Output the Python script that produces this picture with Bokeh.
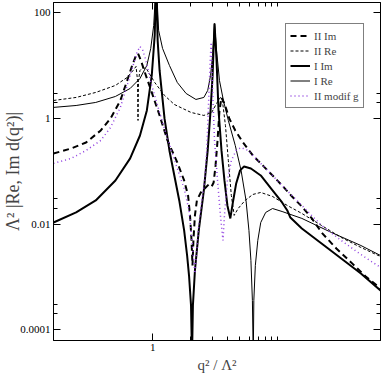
from bokeh.plotting import figure
from bokeh.models import (Range1d, FixedTicker, LogAxis, Legend, LegendItem,
                          CustomJSTickFormatter)
from bokeh.embed import file_html
from bokeh.resources import INLINE

# ---------------- data ----------------
ii_im_x = [0.160, 0.222, 0.292, 0.383, 0.459, 0.550, 0.624, 0.684, 0.735, 0.762, 0.804, 0.865, 0.982,
           1.135, 1.313, 1.573, 1.786, 1.920, 1.991, 2.047, 2.084, 2.12, 2.18, 2.26, 2.43, 2.61, 2.81,
           2.97, 3.08, 3.19, 3.31, 3.43, 3.56, 3.76, 4.11, 4.59, 5.30, 6.36, 7.62, 9.14, 10.9, 13.1,
           15.7, 18.9, 22.6, 29.7, 39.0, 51.1, 67.1]
ii_im_y = [0.217, 0.270, 0.351, 0.593, 1.0, 2.19, 5.24, 10.1, 15.6, 17.0, 12.5, 7.43, 3.11,
           1.14, 0.383, 0.147, 0.0670, 0.0348, 0.0146, 0.00489, 0.00164, 0.00489, 0.0146, 0.028, 0.0397,
           0.0472, 0.0562, 0.0515, 0.0614, 0.129, 0.383, 1.42, 2.50, 1.92, 1.0, 0.593, 0.351, 0.199,
           0.129, 0.0832, 0.0538, 0.0333, 0.0215, 0.0128, 0.00693, 0.00345, 0.00188, 0.00102, 0.000603]

ii_re_x = [0.160, 0.243, 0.349, 0.502, 0.624, 0.696, 0.735, 0.755, 0.762, 0.769, 0.790, 0.834, 0.897,
           1.037, 1.243, 1.490, 2.028, 2.57, 2.97, 3.25, 3.49, 3.62, 3.83, 4.04, 4.27, 4.50, 4.84,
           5.50, 6.36, 7.35, 9.14, 12.0, 15.7, 22.6, 32.5, 46.7, 67.1]
ii_re_y = [2.19, 2.50, 3.11, 4.22, 5.98, 8.11, 9.66, 5.24, 0.916, 5.24, 8.11, 9.25, 8.47,
           4.81, 2.73, 1.84, 1.30, 1.14, 1.30, 1.92, 2.50, 2.19, 0.737, 0.160, 0.0348, 0.0146, 0.0197,
           0.028, 0.0364, 0.0397, 0.0333, 0.0225, 0.0159, 0.0094, 0.00557, 0.00361, 0.00243]

i_im_x = [0.160, 0.243, 0.349, 0.502, 0.659, 0.790, 0.897, 0.982, 1.037, 1.066, 1.095, 1.135, 1.243,
          1.361, 1.490, 1.632, 1.786, 1.887, 1.955, 2.028, 2.065, 2.10, 2.18, 2.34, 2.57, 2.76, 2.91,
          3.02, 3.13, 3.25, 3.37, 3.56, 3.76, 3.97, 4.19, 4.42, 4.67, 5.02, 5.40, 6.13, 7.35, 9.14,
          10.9, 12.0, 12.7, 15.7, 22.6, 32.5, 46.7, 67.1]
i_im_y = [0.0107, 0.0166, 0.0280, 0.0670, 0.175, 0.476, 1.42, 6.52, 37.3, 400, 30.0, 8.11, 1.0,
          0.248, 0.0832, 0.0280, 0.00757, 0.00254, 0.00106, 0.000287, 0.00003, 0.000287, 0.00132,
          0.00757, 0.0433, 0.248, 1.42, 6.52, 63.0, 12.5, 1.42, 0.248, 0.0670, 0.0225, 0.0128, 0.0280,
          0.0588, 0.104, 0.123, 0.113, 0.0832, 0.0433, 0.0257, 0.0181, 0.0133, 0.00826, 0.00429,
          0.00223, 0.00116, 0.000553]

i_re_x = [0.160, 0.243, 0.349, 0.502, 0.659, 0.790, 0.897, 0.964, 1.018, 1.066, 1.115, 1.199, 1.361,
          1.573, 1.853, 2.22, 2.57, 2.76, 2.91, 3.02, 3.13, 3.25, 3.43, 3.69, 4.04, 4.59, 5.11, 5.60,
          5.91, 6.13, 6.30, 6.40, 6.47, 6.65, 6.96, 7.35, 8.05, 9.14, 10.9, 15.7, 27.1, 46.7, 67.1]
i_re_y = [1.62, 1.76, 2.01, 2.61, 3.70, 5.72, 10.1, 21.2, 57.7, 400, 46.4, 21.2, 10.1,
          4.81, 2.97, 2.29, 2.50, 3.39, 6.52, 15.6, 63.0, 19.4, 5.24, 2.19, 0.916, 0.308, 0.104, 0.028,
          0.00757, 0.00205, 0.000357, 0.00003, 0.000357, 0.00164, 0.00489, 0.0107, 0.0166, 0.0197,
          0.0173, 0.0128, 0.00693, 0.00393, 0.00254]

mod_x = [0.160, 0.222, 0.292, 0.383, 0.459, 0.550, 0.624, 0.696, 0.748, 0.790, 0.834, 0.881, 0.982,
         1.135, 1.313, 1.545, 1.786, 1.955, 2.065, 2.14, 2.18, 2.24, 2.34, 2.48, 2.61, 2.71, 2.81,
         2.89, 2.94, 3.02, 3.13, 3.31, 3.49, 3.66, 3.76, 3.97, 4.27, 4.67, 5.11, 5.81, 6.71, 8.34,
         10.9, 15.7, 22.6, 32.5, 46.7, 67.1]
mod_y = [0.141, 0.175, 0.248, 0.383, 0.676, 1.62, 4.22, 10.1, 17.8, 23.1, 19.4, 12.5, 4.22,
         1.30, 0.418, 0.129, 0.0472, 0.0181, 0.00489, 0.00188, 0.00116, 0.00254, 0.0094, 0.028, 0.0670,
         0.248, 2.19, 12.5, 27.5, 3.39, 0.383, 0.0670, 0.0146, 0.00489, 0.0146, 0.0670, 0.160, 0.248,
         0.282, 0.248, 0.175, 0.104, 0.0538, 0.0225, 0.0094, 0.00489, 0.00265, 0.00151]

series_labels = ["II Im", "II Re", "I Im", "I Re", "II modif g"]

x_major = [1]
x_major_labels = ["1"]
x_minor = [2, 3, 4, 5, 6, 7, 8, 9, 10]
y_major = [0.0001, 0.01, 1, 100]
y_major_labels = ["0.0001", "0.01", "1", "100"]
y_minor = [0.0002, 0.0003, 0.02, 0.03, 2, 3, 200, 300]

x_title = "q² / Λ²"
y_title = "Λ² |Re, Im d(q²)|"

# ---------------- figure ----------------
FONT = "Liberation Serif"
PURPLE = "#9040e0"

p = figure(width=382, height=382, x_axis_type="log", y_axis_type="log",
           x_range=Range1d(0.16, 67.1), y_range=Range1d(6.24e-5, 157),
           output_backend="svg", toolbar_location=None,
           min_border_left=47, min_border_right=2, min_border_top=2, min_border_bottom=42,
           background_fill_color="white", border_fill_color="white")
p.grid.visible = False
p.outline_line_color = "black"
p.outline_line_width = 1


def fmt(vals, labs):
    return CustomJSTickFormatter(args=dict(vals=vals, labs=labs),
                                 code="const i = vals.indexOf(tick); return i >= 0 ? labs[i] : '';")


def style_axis(ax):
    ax.major_tick_in = 7
    ax.major_tick_out = 0
    ax.minor_tick_in = 4
    ax.minor_tick_out = 0
    ax.axis_line_color = "black"
    ax.major_tick_line_color = "black"
    ax.minor_tick_line_color = "black"
    ax.major_label_text_font = FONT
    ax.major_label_text_font_size = "11px"
    ax.major_label_text_color = "black"


xax = p.xaxis[0]
xax.ticker = FixedTicker(ticks=x_major, minor_ticks=x_minor)
xax.formatter = fmt(x_major, x_major_labels)
style_axis(xax)
xax.major_label_standoff = 3
xax.axis_label = x_title
xax.axis_label_text_font = FONT
xax.axis_label_text_font_style = "normal"
xax.axis_label_text_font_size = "15px"
xax.axis_label_standoff = 3

yax = p.yaxis[0]
yax.ticker = FixedTicker(ticks=y_major, minor_ticks=y_minor)
yax.formatter = fmt(y_major, y_major_labels)
style_axis(yax)
yax.major_label_standoff = 3
yax.axis_label = y_title
yax.axis_label_text_font = FONT
yax.axis_label_text_font_style = "normal"
yax.axis_label_text_font_size = "18px"
yax.axis_label_standoff = -6

top = LogAxis(ticker=FixedTicker(ticks=x_major, minor_ticks=x_minor),
              formatter=CustomJSTickFormatter(code="return '';"))
style_axis(top)
top.major_label_text_font_size = "0px"
top.major_label_standoff = 0
p.add_layout(top, "above")

right = LogAxis(ticker=FixedTicker(ticks=y_major, minor_ticks=y_minor),
                formatter=CustomJSTickFormatter(code="return '';"))
style_axis(right)
right.major_label_text_font_size = "0px"
right.major_label_standoff = 0
p.add_layout(right, "right")

r1 = p.line(ii_im_x, ii_im_y, line_color="black", line_width=2, line_dash="6 4")
r2 = p.line(ii_re_x, ii_re_y, line_color="black", line_width=1, line_dash="3 2")
r3 = p.line(i_im_x, i_im_y, line_color="black", line_width=2)
r4 = p.line(i_re_x, i_re_y, line_color="black", line_width=1)
r5 = p.line(mod_x, mod_y, line_color=PURPLE, line_width=1.5, line_dash="1 3")

legend = Legend(items=[LegendItem(label=l, renderers=[r]) for l, r in
                       zip(series_labels, [r1, r2, r3, r4, r5])],
                location=(232, 232), orientation="vertical",
                label_text_font=FONT, label_text_font_size="11px",
                glyph_width=20, glyph_height=15, label_height=15, spacing=0,
                padding=4, margin=0, label_standoff=4,
                border_line_color="black", border_line_width=1,
                background_fill_color="white", background_fill_alpha=1)
p.add_layout(legend)

open("out.html", "w").write(file_html(p, INLINE))
